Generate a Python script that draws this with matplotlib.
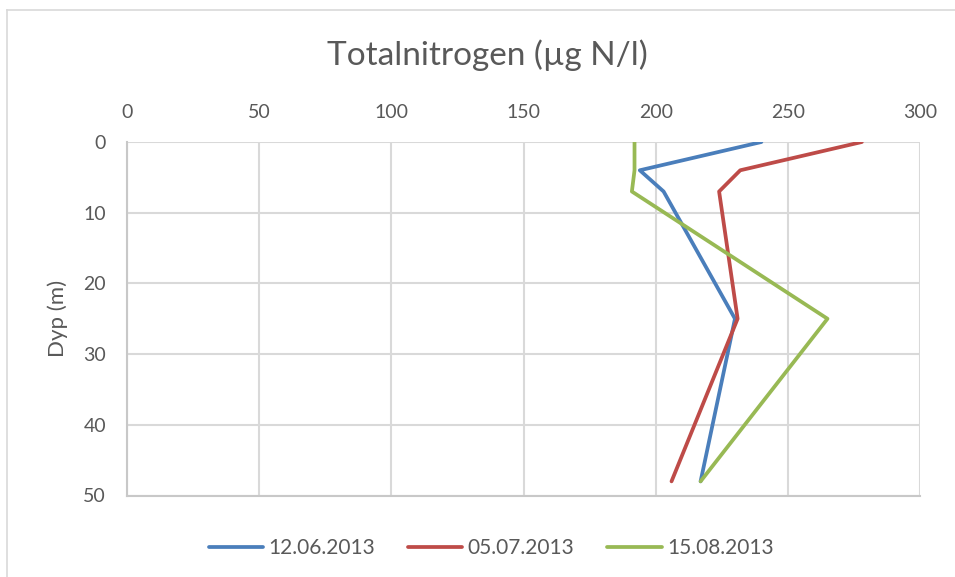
import matplotlib.pyplot as plt
from matplotlib.lines import Line2D

plt.rcParams['font.family'] = ['Lato', 'DejaVu Sans']

# depth (m) and total nitrogen (ug N/l) per sampling date
depth = [0, 4, 7, 25, 48]
n_1206 = [240, 194, 203, 230, 217]
n_0507 = [278, 232, 224, 231, 206]
n_1508 = [192, 192, 191, 265, 217]
labels = ['12.06.2013', '05.07.2013', '15.08.2013']
colors = ['#4a7ebb', '#be4b48', '#98b954']

x_ticks = [0, 50, 100, 150, 200, 250, 300]
y_ticks = [0, 10, 20, 30, 40, 50]
text_col = '#595959'

fig = plt.figure(figsize=(9.55, 5.77), dpi=100)
ax = fig.add_axes([127 / 955, 1 - 495.5 / 577, (920 - 127) / 955, (495.5 - 142) / 577])

for vals, lab, col in zip([n_1206, n_0507, n_1508], labels, colors):
    ax.plot(vals, depth, color=col, lw=2.7, label=lab, solid_capstyle='round')

ax.set_xlim(0, 300)
ax.set_ylim(50, 0)
ax.set_xticks(x_ticks)
ax.set_yticks(y_ticks)
ax.xaxis.tick_top()
ax.tick_params(axis='both', length=0, labelsize=14, colors=text_col)
ax.tick_params(axis='x', pad=15)
ax.tick_params(axis='y', pad=15)
ax.grid(True, color='#d9d9d9', lw=1.5)
ax.set_axisbelow(True)
for side in ['top', 'right']:
    ax.spines[side].set_visible(False)
for side in ['left', 'bottom']:
    ax.spines[side].set_color('#c8c8c8')
    ax.spines[side].set_linewidth(1.5)

fig.text(487 / 955, 1 - 55 / 577, 'Totalnitrogen (µg N/l)', ha='center', va='center',
         fontsize=24, color=text_col)
fig.text(58 / 955, 1 - 318 / 577, 'Dyp (m)', ha='center', va='center', rotation=90,
         fontsize=16, color=text_col)

leg = fig.legend(loc='center', bbox_to_anchor=(491 / 955, 1 - 548 / 577), ncol=3,
                 frameon=False, fontsize=15, handlelength=2.6, handletextpad=0.25,
                 columnspacing=1.6)
for t in leg.get_texts():
    t.set_color(text_col)

# outer chart border
fig.add_artist(Line2D([7 / 955, 7 / 955], [0, 1 - 10 / 577], color='#d9d9d9', lw=1.2))
fig.add_artist(Line2D([7 / 955, 1], [1 - 10 / 577, 1 - 10 / 577], color='#d9d9d9', lw=1.2))

fig.savefig('out.png', dpi=100)
